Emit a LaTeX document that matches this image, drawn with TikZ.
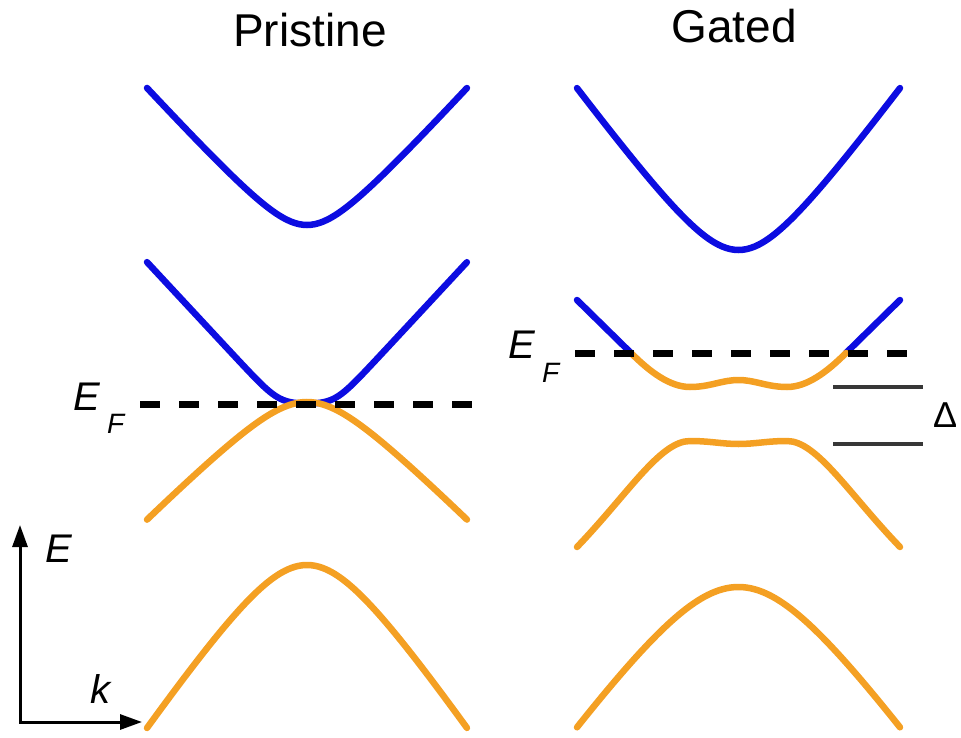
\documentclass[tikz,border=0pt]{standalone}
\usepackage{fontspec}
\setmainfont{Liberation Sans}
\usetikzlibrary{arrows.meta}
\definecolor{bandblue}{RGB}{12,12,225}
\definecolor{bandorange}{RGB}{244,160,35}
\definecolor{gapgray}{RGB}{55,55,55}
\begin{document}
\begin{tikzpicture}[x=1pt,y=-1pt,
  band/.style={line width=6.5pt, line cap=round},
  cband/.style={band, draw=bandblue},
  vband/.style={band, draw=bandorange},
  fermi/.style={line width=7pt, dash pattern=on 20pt off 19pt},
  gapline/.style={line width=3.5pt, draw=gapgray},
  axisline/.style={line width=3pt, {Triangle[length=22pt,width=15pt]}-{Triangle[length=22pt,width=15pt]}},
  lbl/.style={font=\fontsize{40}{40}\selectfont\itshape, inner sep=0pt, anchor=base west},
  sublbl/.style={font=\fontsize{28}{28}\selectfont\itshape, inner sep=0pt, anchor=base west},
  ttl/.style={font=\fontsize{46}{46}\selectfont, inner sep=0pt, anchor=base}]
\useasboundingbox (0,0) rectangle (961,738);

% titles
\node[ttl] (tP) at (310,47) {Pristine};
\node[ttl] (tG) at (734,43) {Gated};

% ---- Pristine ----
\draw[cband] plot[domain=-1.6:1.6, samples=81, smooth] ({307+100*\x},{225-109.7*(sqrt(0.16+\x*\x)-0.4)});
\draw[cband] plot[domain=-1.6:1.6, samples=121, smooth] ({307+100*\x},{404-8.6*(max((abs(\x)-0.28)/0.08,0)+ln(1+exp(-abs((abs(\x)-0.28)/0.08))))});
\draw[vband] plot[domain=-1.6:1.6, samples=81, smooth] ({307+100*\x},{402+100*(sqrt(0.25+\x*\x)-0.5)});
\draw[vband] plot[domain=-1.6:1.6, samples=81, smooth] ({307+100*\x},{565+147*(sqrt(0.36+\x*\x)-0.6)});

% ---- Gated ----
\draw[cband] plot[domain=-1.615:1.615, samples=81, smooth] ({738.5+100*\x},{250-136*(sqrt(0.25+\x*\x)-0.5)});
\coordinate (gL0) at (577,300);
\coordinate (gL1) at (631,353);
\coordinate (gR1) at (846,353);
\coordinate (gR0) at (900,300);
\draw[cband] (gL0) -- (gL1);
\draw[cband] (gR1) -- (gR0);
\draw[vband] (gL1) .. controls (650,372) and (670,387) .. (690,387)
  .. controls (710,387) and (722,380) .. (738.5,380)
  .. controls (755,380) and (767,387) .. (787,387)
  .. controls (807,387) and (827,372) .. (gR1);
\coordinate (hL) at (577,547);
\coordinate (hR) at (900,547);
\draw[vband] (hL) .. controls (628,494) and (660,441) .. (690,441)
  .. controls (710,441) and (722,444) .. (738.5,444)
  .. controls (755,444) and (767,441) .. (787,441)
  .. controls (817,441) and (849,494) .. (hR);
\draw[vband] plot[domain=-1.615:1.615, samples=81, smooth] ({738.5+100*\x},{587+140*(sqrt(0.64+\x*\x)-0.8)});

% Fermi levels
\coordinate (fP0) at (140,404);
\coordinate (fP1) at (472,404);
\coordinate (fG0) at (575,353);
\coordinate (fG1) at (907,353);
\draw[fermi] (fP0) -- (fP1);
\draw[fermi] (fG0) -- (fG1);
\node[lbl] (eP) at (73,410) {E};
\node[sublbl] (fP) at (107,433) {F};
\node[lbl] (eG) at (508,358) {E};
\node[sublbl] (fG) at (542,382) {F};

% gap
\coordinate (d1a) at (833,387);
\coordinate (d1b) at (923,387);
\coordinate (d2a) at (833,444);
\coordinate (d2b) at (923,444);
\draw[gapline] (d1a) -- (d1b);
\draw[gapline] (d2a) -- (d2b);
\node[font=\fontsize{36}{36}\selectfont, inner sep=0pt, anchor=base west] (delta) at (933,427) {Δ};

% axes
\coordinate (orig) at (20,722);
\coordinate (etip) at (20,525);
\coordinate (ktip) at (142,722);
\draw[axisline] (etip) -- (orig) -- (ktip);
\node[lbl] (eA) at (45,562) {E};
\node[lbl] (kA) at (90,703) {k};
\end{tikzpicture}
\end{document}
